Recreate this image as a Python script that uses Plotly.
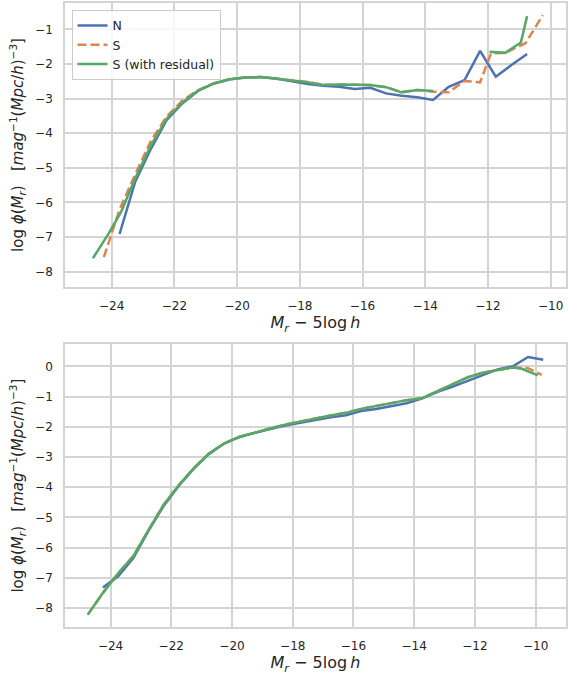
import plotly.graph_objects as go
from plotly.subplots import make_subplots

# ---- Luminosity function, upper panel ----
top_n_mag = [-23.75, -23.25, -22.75, -22.25, -21.75, -21.25, -20.75, -20.25, -19.75,
             -19.25, -18.75, -18.25, -17.75, -17.25, -16.75, -16.25, -15.75, -15.25,
             -14.75, -14.25, -13.75, -13.25, -12.75, -12.25, -11.75, -11.25, -10.75]
top_n_phi = [-6.91, -5.40, -4.45, -3.62, -3.14, -2.78, -2.57, -2.45, -2.39,
             -2.38, -2.42, -2.50, -2.58, -2.63, -2.66, -2.72, -2.69, -2.85,
             -2.92, -2.96, -3.04, -2.66, -2.47, -1.62, -2.37, -2.03, -1.71]

top_s_mag = [-24.25, -23.75, -23.25, -22.75, -22.25, -21.75, -21.25, -20.75, -20.25,
             -19.75, -19.25, -18.75, -18.25, -17.75, -17.25, -16.75, -16.25, -15.75,
             -15.25, -14.75, -14.25, -13.75, -13.25, -12.75, -12.25, -11.9, -11.45,
             -10.8, -10.25]
top_s_phi = [-7.58, -6.20, -5.19, -4.22, -3.52, -3.06, -2.76, -2.56, -2.44,
             -2.39, -2.38, -2.42, -2.47, -2.52, -2.60, -2.59, -2.60, -2.61,
             -2.67, -2.81, -2.75, -2.80, -2.82, -2.49, -2.53, -1.69, -1.68,
             -1.40, -0.59]

top_sr_mag = [-24.6, -24.1, -23.7, -23.25, -22.75, -22.25, -21.75, -21.25, -20.75,
              -20.25, -19.75, -19.25, -18.75, -18.25, -17.75, -17.25, -16.75, -16.25,
              -15.75, -15.25, -14.75, -14.25, -13.75, -12.9, -11.95, -11.45, -10.95,
              -10.75]
top_sr_phi = [-7.61, -6.90, -6.27, -5.30, -4.35, -3.58, -3.12, -2.77, -2.56,
              -2.44, -2.39, -2.38, -2.43, -2.48, -2.53, -2.61, -2.59, -2.60,
              -2.61, -2.67, -2.82, -2.75, -2.78, None, -1.65, -1.68, -1.38,
              -0.62]

# ---- Luminosity function, lower panel ----
bot_n_mag = [-24.25, -23.75, -23.25, -22.75, -22.25, -21.75, -21.25, -20.75, -20.25,
             -19.75, -19.25, -18.75, -18.25, -17.75, -17.25, -16.75, -16.25, -15.75,
             -15.25, -14.75, -14.25, -13.75, -13.25, -12.75, -12.25, -11.75, -11.25,
             -10.75, -10.25, -9.75]
bot_n_phi = [-7.32, -6.95, -6.35, -5.45, -4.62, -3.95, -3.38, -2.90, -2.55,
             -2.33, -2.20, -2.08, -1.96, -1.87, -1.77, -1.69, -1.62, -1.48,
             -1.41, -1.32, -1.22, -1.07, -0.85, -0.68, -0.49, -0.30, -0.10,
             0.00, 0.31, 0.22]

bot_s_mag = [-24.75, -24.25, -23.75, -23.25, -22.75, -22.25, -21.75, -21.25, -20.75,
             -20.25, -19.75, -19.25, -18.75, -18.25, -17.75, -17.25, -16.75, -16.25,
             -15.75, -15.25, -14.75, -14.25, -13.75, -13.25, -12.75, -12.25, -11.75,
             -11.25, -10.75, -10.25, -9.8]
bot_s_phi = [-8.22, -7.50, -6.85, -6.28, -5.42, -4.58, -3.93, -3.36, -2.88,
             -2.55, -2.34, -2.19, -2.06, -1.93, -1.82, -1.73, -1.63, -1.54,
             -1.41, -1.32, -1.23, -1.12, -1.06, -0.83, -0.60, -0.37, -0.21,
             -0.12, -0.04, -0.06, -0.28]

bot_sr_mag = [-24.75, -24.25, -23.75, -23.25, -22.75, -22.25, -21.75, -21.25, -20.75,
              -20.25, -19.75, -19.25, -18.75, -18.25, -17.75, -17.25, -16.75, -16.25,
              -15.75, -15.25, -14.75, -14.25, -13.75, -13.25, -12.75, -12.25, -11.75,
              -11.25, -10.75, -10.45, -9.93]
bot_sr_phi = [-8.22, -7.50, -6.85, -6.28, -5.42, -4.58, -3.93, -3.36, -2.88,
              -2.55, -2.34, -2.19, -2.06, -1.93, -1.82, -1.73, -1.63, -1.54,
              -1.41, -1.32, -1.23, -1.12, -1.06, -0.83, -0.60, -0.37, -0.21,
              -0.12, -0.04, -0.08, -0.30]

x_ticks = [-24, -22, -20, -18, -16, -14, -12, -10]
top_y_ticks = [-8, -7, -6, -5, -4, -3, -2, -1]
bot_y_ticks = [-8, -7, -6, -5, -4, -3, -2, -1, 0]

BLUE, ORANGE, GREEN = "#4C72B0", "#DD8452", "#55A868"
FONT = "DejaVu Sans"
TEXT = "#262626"
GRID = "#d4d4d4"

fig = make_subplots(rows=2, cols=1)

panels = [
    (1, (top_n_mag, top_n_phi), (top_s_mag, top_s_phi), (top_sr_mag, top_sr_phi), True),
    (2, (bot_n_mag, bot_n_phi), (bot_s_mag, bot_s_phi), (bot_sr_mag, bot_sr_phi), False),
]
for row, n, s, sr, legend in panels:
    fig.add_trace(go.Scatter(x=n[0], y=n[1], mode="lines", name="N",
                             line=dict(color=BLUE, width=2.5), showlegend=legend),
                  row=row, col=1)
    fig.add_trace(go.Scatter(x=s[0], y=s[1], mode="lines", name="S",
                             line=dict(color=ORANGE, width=2.5, dash="9px,4px"),
                             showlegend=legend),
                  row=row, col=1)
    fig.add_trace(go.Scatter(x=sr[0], y=sr[1], mode="lines", name="S (with residual)",
                             line=dict(color=GREEN, width=2.5), showlegend=legend,
                             connectgaps=False),
                  row=row, col=1)

x_title = "<i>M<sub>r</sub></i> − 5log\u2009<i>h</i>"
y_title = ("log <i>ϕ</i>(<i>M<sub>r</sub></i>)\u00a0\u00a0\u00a0"
           "[<i>mag</i><sup>−1</sup>(<i>Mpc</i>/<i>h</i>)<sup>−3</sup>]")

axis_common = dict(
    showgrid=True, gridcolor=GRID, gridwidth=1.6,
    showline=True, linecolor=GRID, linewidth=1.6, mirror=True,
    ticks="", zeroline=False,
    tickfont=dict(family=FONT, size=12, color=TEXT),
)

fig.update_xaxes(**axis_common, tickvals=x_ticks, ticklabelstandoff=7,
                 title=dict(text=x_title, font=dict(family=FONT, size=16, color=TEXT),
                            standoff=4))
fig.update_yaxes(**axis_common, ticklabelstandoff=8,
                 title=dict(text=y_title, font=dict(family=FONT, size=15, color=TEXT),
                            standoff=8))

fig.update_xaxes(range=[-25.49, -9.51], row=1, col=1)
fig.update_yaxes(range=[-8.44, -0.24], tickvals=top_y_ticks, domain=[0.5449, 1.0],
                 row=1, col=1)
fig.update_xaxes(range=[-25.5, -9.0], row=2, col=1)
fig.update_yaxes(range=[-8.63, 0.73], tickvals=bot_y_ticks, domain=[0.0, 0.4531],
                 row=2, col=1)

fig.update_layout(
    width=568, height=681,
    margin=dict(l=65, r=0, t=3, b=54),
    paper_bgcolor="white", plot_bgcolor="white",
    font=dict(family=FONT, color=TEXT),
    legend=dict(
        x=0.013, y=0.989, xanchor="left", yanchor="top",
        bgcolor="rgba(255,255,255,0.8)", bordercolor="#cccccc", borderwidth=1,
        font=dict(family=FONT, size=12.5, color=TEXT),
    ),
)

fig.write_html("out.html")
